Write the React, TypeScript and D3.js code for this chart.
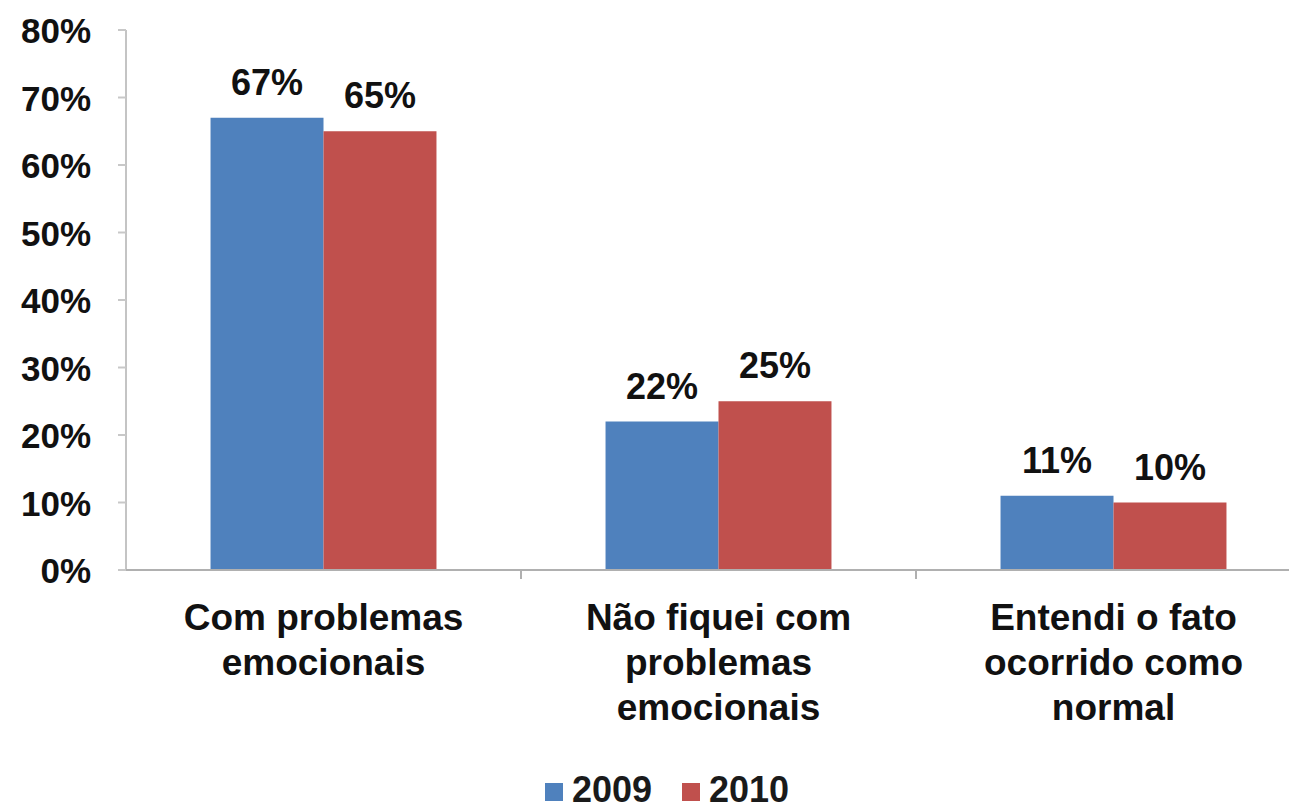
import React from "react";
import * as d3 from "d3";

const categories: string[][] = [
  ["Com problemas", "emocionais"],
  ["Não fiquei com", "problemas", "emocionais"],
  ["Entendi o fato", "ocorrido como", "normal"],
];
const series = ["2009", "2010"];
const values2009 = [67, 22, 11];
const values2010 = [65, 25, 10];
const yTicks = [0, 10, 20, 30, 40, 50, 60, 70, 80];
const colors = ["#4F81BD", "#C0504D"];

const W = 1297;
const H = 810;
const FONT = "'Liberation Sans', Arial, sans-serif";

export default function App() {
  const x0 = 126;
  const x1 = 1311;
  const y = d3.scaleLinear().domain([0, 80]).range([570, 30]);
  const idx = categories.map((_, i) => String(i));
  const xBand = d3.scaleBand<string>().domain(idx).range([x0, x1]).paddingInner(0.428).paddingOuter(0.214);
  const xSub = d3.scaleBand<string>().domain(series).range([0, xBand.bandwidth()]);
  const data = [values2009, values2010];
  const step = xBand.step();

  return (
    <div style={{ margin: -8 }}>
      <svg width={W} height={H} style={{ display: "block", background: "#fff" }} fontFamily={FONT} fontWeight="bold">
        {/* y axis */}
        <line x1={x0} x2={x0} y1={y(80)} y2={y(0)} stroke="#b0b0b0" strokeWidth={1.5} />
        {yTicks.map((t) => (
          <g key={t}>
            <line x1={x0 - 8} x2={x0} y1={y(t)} y2={y(t)} stroke="#c8c8c8" strokeWidth={2} />
            <text x={91} y={y(t) + 13} textAnchor="end" fontSize={35} fill="#111">
              {t}%
            </text>
          </g>
        ))}
        {/* bars */}
        {categories.map((_, i) =>
          series.map((s, j) => {
            const v = data[j][i];
            const bx = (xBand(String(i)) as number) + (xSub(s) as number);
            return (
              <g key={i + s}>
                <rect x={bx} y={y(v)} width={xSub.bandwidth()} height={y(0) - y(v)} fill={colors[j]} />
                <text x={bx + xSub.bandwidth() / 2} y={y(v) - 23} textAnchor="middle" fontSize={36} fill="#111">
                  {v}%
                </text>
              </g>
            );
          })
        )}
        {/* x axis */}
        <line x1={x0} x2={x1} y1={y(0)} y2={y(0)} stroke="#b0b0b0" strokeWidth={2} />
        {[1, 2].map((k) => (
          <line key={k} x1={x0 + k * step} x2={x0 + k * step} y1={y(0)} y2={y(0) + 9} stroke="#b0b0b0" strokeWidth={2} />
        ))}
        {categories.map((lines, i) => {
          const cx = (xBand(String(i)) as number) + xBand.bandwidth() / 2;
          return (
            <text key={i} textAnchor="middle" fontSize={37} fill="#111">
              {lines.map((l, k) => (
                <tspan key={k} x={cx} y={630 + k * 45}>
                  {l}
                </tspan>
              ))}
            </text>
          );
        })}
        {/* legend */}
        {series.map((s, j) => {
          const lx = j === 0 ? 545 : 682;
          return (
            <g key={s}>
              <rect x={lx} y={783} width={18} height={18} fill={colors[j]} />
              <text x={lx + 27} y={802} fontSize={36} fill="#1a1a1a">
                {s}
              </text>
            </g>
          );
        })}
      </svg>
    </div>
  );
}
